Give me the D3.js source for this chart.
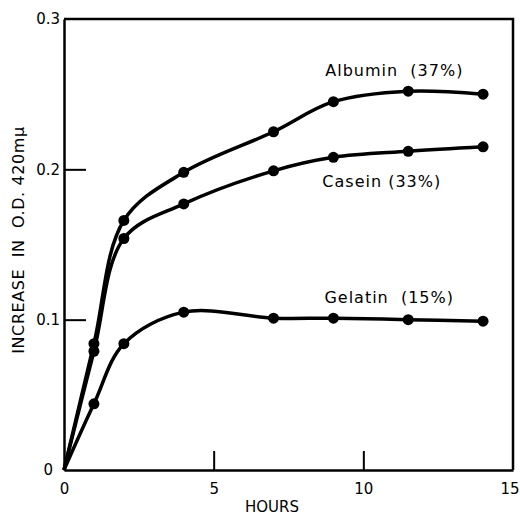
<!DOCTYPE html>
<html>
<head>
<meta charset="utf-8">
<script src="https://cdn.jsdelivr.net/npm/d3@7"></script>
<style>
  body { margin: 0; background: #fff; }
  svg { font-family: "DejaVu Sans", sans-serif; }
  text { white-space: pre; }
</style>
</head>
<body>
<main></main>
<script>
const hours = [0, 1, 2, 4, 7, 9, 11.5, 14];
const albumin = [0, 0.084, 0.166, 0.198, 0.225, 0.245, 0.252, 0.250];
const casein = [0, 0.079, 0.154, 0.177, 0.199, 0.208, 0.212, 0.215];
const gelatin = [0, 0.044, 0.084, 0.105, 0.101, 0.101, 0.100, 0.099];
const seriesNames = ['Albumin  (37%)', 'Casein (33%)', 'Gelatin  (15%)'];
const labelAt = [[8.73, 0.262], [8.63, 0.188], [8.7, 0.111]];
const xTicks = [0, 5, 10, 15];
const yTicks = [0, 0.1, 0.2, 0.3];

const w = 520, h = 517;
const svg = d3.select('main').append('svg').attr('width', w).attr('height', h);
const x = d3.scaleLinear().domain([0, 15]).range([64, 513]);
const y = d3.scaleLinear().domain([0, 0.3]).range([470, 19]);

// frame
svg.append('path')
    .attr('d', `M${x(0)},${y(0.3)}H${x(15)}V${y(0)}`)
    .attr('fill', 'none').attr('stroke', '#000').attr('stroke-width', 2.5);

const xAxis = svg.append('g')
    .attr('transform', `translate(0,${y(0)})`)
    .call(d3.axisBottom(x).tickValues(xTicks).tickSizeInner(-19).tickSizeOuter(0).tickPadding(13).tickFormat(d3.format('d')));
const yAxis = svg.append('g')
    .attr('transform', `translate(${x(0)},0)`)
    .call(d3.axisLeft(y).tickValues(yTicks).tickSizeInner(-22).tickSizeOuter(0).tickPadding(4)
        .tickFormat(d => d === 0 ? '0' : d.toFixed(1)));
[xAxis, yAxis].forEach(a => {
    a.select('.domain').attr('stroke', '#000').attr('stroke-width', 2.5);
    a.selectAll('line').attr('stroke', '#000').attr('stroke-width', 2);
    a.selectAll('text').attr('font-size', 15).attr('font-family', '"DejaVu Sans", sans-serif').attr('fill', '#000');
});
xAxis.selectAll('.tick').filter(d => d === 0 || d === 15).select('line').remove();
xAxis.selectAll('.tick').filter(d => d === 15).select('text').attr('text-anchor', 'end').attr('x', 6);
yAxis.selectAll('.tick').filter(d => d === 0 || d === 0.3).select('line').remove();
yAxis.selectAll('.tick').filter(d => d === 0).select('text').attr('x', -11);

svg.append('text')
    .attr('x', 272).attr('y', 512)
    .attr('text-anchor', 'middle').attr('font-size', 15)
    .text('HOURS');
svg.append('text')
    .attr('transform', 'translate(24,240) rotate(-90)')
    .attr('text-anchor', 'middle').attr('font-size', 16)
    .attr('letter-spacing', 0.6)
    .text('INCREASE  IN  O.D. 420mμ');

const series = [albumin, casein, gelatin];
const line = d3.line()
    .x((d, i) => x(hours[i]))
    .y(d => y(d))
    .curve(d3.curveCatmullRom.alpha(0.5));

series.forEach((vals, k) => {
    svg.append('path')
        .attr('d', line(vals))
        .attr('fill', 'none').attr('stroke', '#000').attr('stroke-width', 3.5);
    svg.selectAll(null)
        .data(vals.slice(1))
        .enter()
        .append('circle')
        .attr('cx', (d, i) => x(hours[i + 1]))
        .attr('cy', d => y(d))
        .attr('r', 5.5)
        .attr('fill', '#000');
    svg.append('text')
        .attr('x', x(labelAt[k][0])).attr('y', y(labelAt[k][1]))
        .attr('font-size', 16)
        .attr('letter-spacing', 1)
        .text(seriesNames[k]);
});
</script>
</body>
</html>
